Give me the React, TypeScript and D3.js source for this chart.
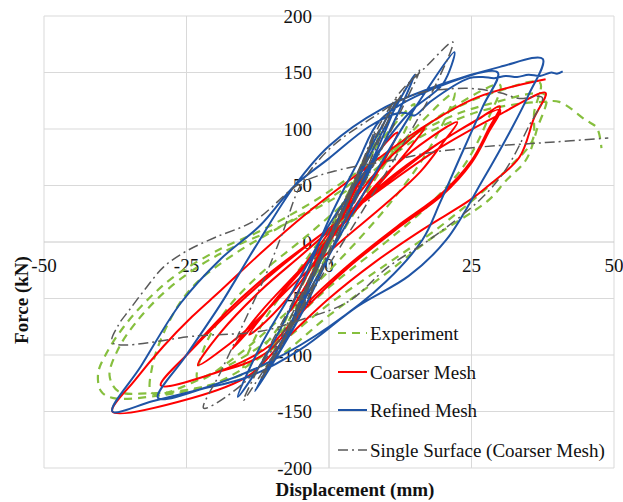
import React from 'react';
import * as d3 from 'd3';

type Pt = [number, number];

const xTicks = [-50, -25, 0, 25, 50];
const yTicks = [-200, -150, -100, -50, 0, 50, 100, 150, 200];
const seriesNames = ['Experiment', 'Coarser Mesh', 'Refined Mesh', 'Single Surface (Coarser Mesh)'];

// displacement (mm), force (kN)
const experiment: Pt[] = [
  [0, 0], [2, 22], [4, 48], [2, 18], [-2, -22], [-4, -45], [-2, -14],
  [3, 34], [6, 72], [3, 30], [-3, -32], [-6, -66], [-3, -28],
  [4, 44], [9, 98], [6, 58], [0, -4], [-6, -60], [-10, -95], [-6, -52],
  [0, 10], [7, 75], [15, 122], [13, 95], [8, 55], [0, -10], [-8, -70], [-15, -112],
  [-12, -75], [-6, -30], [0, 12], [8, 60], [15, 100], [22, 132],
  [20, 105], [16, 70], [10, 30], [2, -15], [-8, -65], [-16, -100], [-23, -122],
  [-22, -95], [-18, -60], [-12, -28], [-4, 5], [5, 45], [14, 90], [22, 120], [30, 139],
  [28, 110], [24, 70], [18, 35], [10, 0], [0, -40], [-10, -85], [-20, -115], [-31, -134],
  [-31, -110], [-28, -70], [-24, -40], [-17, -12], [-8, 15], [2, 45], [12, 85], [22, 118], [30, 134], [37, 141],
  [36, 115], [35.7, 90], [32, 68], [28, 49], [18.8, 11], [10, -20], [0, -55], [-10, -95], [-20, -125], [-30, -136], [-38, -138], [-40, -132],
  [-40.5, -116], [-39, -98], [-36, -75], [-32, -52], [-27, -30], [-19, -6], [-12, 10], [-3, 35], [8, 72], [20, 108], [28, 122], [38, 130],
  [36.5, 100], [34.6, 73], [31, 54], [28, 37], [17.6, 2], [10, -28], [0, -65], [-10, -105], [-22, -128], [-32, -134], [-37, -132], [-38.5, -118],
  [-37, -95], [-34, -72], [-29, -45], [-23, -22], [-17, -5], [-8, 15], [3, 45], [15, 90], [26, 115], [33, 122], [37.5, 124],
  [40.4, 124], [45, 108], [47, 101], [47.8, 83],
];

const coarserMesh: Pt[] = [
  [0, 0], [4, 40], [7, 68], [5, 45], [0, 2], [-4, -38], [-7, -62], [-5, -40], [0, 5],
  [6, 60], [10, 88], [12, 97], [10, 75], [6, 42], [0, 0], [-6, -42], [-11, -70], [-14, -82],
  [-10, -55], [-4, -18], [3, 28], [9, 66], [14, 90], [16.8, 101],
  [14.6, 86], [10, 58], [4, 24], [-3, -15], [-10, -55], [-17, -95],
  [-12, -62], [-5, -24], [3, 20], [10, 60], [16, 86], [22.5, 106],
  [20, 88], [16, 62], [10, 34], [2, 0], [-6, -36], [-15, -80], [-23, -109],
  [-19, -80], [-12, -43], [-4, -8], [4, 28], [12, 62], [20, 90], [26, 108], [30, 120],
  [28, 100], [25, 72], [20, 44], [12, 14], [4, -18], [-4, -55], [-10, -90], [-18, -112], [-29.5, -127],
  [-25, -100], [-18, -62], [-10, -26], [0, 12], [10, 52], [20, 90], [30, 117],
  [28, 97], [25, 70], [20, 42], [12, 12], [4, -20], [-4, -58], [-11, -98], [-20, -116], [-29.5, -127],
  [-24, -95], [-16, -55], [-8, -20], [0, 12], [10, 50], [20, 85], [30, 113], [38, 132],
  [36, 110], [33.4, 75], [28, 50], [24.7, 37], [16.4, 11], [8, -18], [0, -50], [-8, -88], [-14, -118], [-24, -138], [-38, -150],
  [-34, -122], [-29, -92], [-24, -66], [-19, -43], [-12, -10], [-4, 25], [5, 60], [16, 100], [26, 128], [38, 144],
];

const refinedMesh: Pt[] = [
  [0, 0], [3, 35], [5, 55], [2, 22], [-3, -32], [-5, -55], [-2, -18],
  [4, 45], [8, 95], [5, 58], [0, 2], [-5, -52], [-8, -90], [-4, -45],
  [2, 22], [8, 90], [12, 125], [9, 88], [3, 22], [-4, -55], [-11, -115], [-7, -75],
  [0, 2], [7, 75], [15, 148], [11, 102], [4, 32], [-5, -65], [-13, -132],
  [-8, -85], [0, -12], [8, 60], [15, 118], [22, 168],
  [20, 140], [14.6, 117], [11, 96], [6, 60], [0, 15], [-6, -40], [-12, -92], [-16, -137],
  [-11, -100], [-5, -40], [0, 20], [5, 70], [9, 108], [18, 135], [29.6, 150],
  [27, 120], [23, 75], [19.5, 35], [16.4, 2], [10, -35], [0, -75], [-10, -105], [-20, -126], [-30, -138],
  [-25, -100], [-19, -55], [-13, -5], [-6, 50], [0, 85], [9, 117], [20, 140], [30, 155], [37.5, 162],
  [35, 130], [32, 100], [27, 55], [20.6, 2], [14, -30], [5, -57], [-5, -95], [-14, -119], [-23, -131], [-31, -141], [-38, -150],
  [-33, -110], [-26, -54], [-19, -15], [-12, 15], [-6, 50], [0, 74], [7, 102], [12, 114], [13.6, 114], [15, 112], [18, 125], [24.6, 145],
  [27, 146], [29, 145], [31, 147], [33, 146], [35, 148], [37, 147], [39, 150], [40, 149], [41, 151],
];

const singleSurface: Pt[] = [
  [0, 0], [3, 32], [5, 58], [2, 20], [-3, -30], [-5, -52], [-2, -18],
  [4, 48], [8, 98], [5, 55], [-1, -10], [-6, -62], [-9, -98], [-5, -55],
  [2, 22], [9, 105], [12, 128], [9, 92], [3, 25], [-5, -60], [-12, -122], [-8, -80],
  [0, 5], [8, 92], [15.9, 152], [13, 120], [8, 70], [2, 10], [-5, -62], [-10, -102], [-15, -140],
  [-11, -98], [-5, -40], [2, 30], [8, 85], [11.8, 128], [17, 155], [21.7, 177],
  [19, 142], [14, 95], [8, 45], [0, -20], [-8, -82], [-15, -125], [-22, -147],
  [-19, -115], [-15, -72], [-11, -28], [-8, 10], [-5, 50], [0, 82], [7, 108], [14.7, 130], [24, 136], [30, 132], [33.4, 127], [37.4, 128],
  [35, 102], [31, 64], [26.4, 37], [17.6, 2], [10.4, -22], [3.3, -53], [-5, -69], [-12, -79], [-23, -83], [-38, -89],
  [-37, -74], [-35, -60], [-32, -40], [-29, -22], [-25, -8], [-20, 4], [-13, 19], [-5, 52], [2, 64], [11.8, 73], [17.6, 79], [26.4, 84], [38, 88], [49, 92],
];

const allSeries = [experiment, coarserMesh, refinedMesh, singleSurface];
const seriesStyle = [
  { color: '#86bf3e', width: 2.2, dash: '8,6' },
  { color: '#ff0000', width: 2, dash: undefined },
  { color: '#1f54a5', width: 2, dash: undefined },
  { color: '#595959', width: 1.5, dash: '10,4,2,4' },
];

const W = 623;
const H = 502;
const font = '"Liberation Serif", "Times New Roman", serif';

export default function App() {
  const x = d3.scaleLinear().domain([-50, 50]).range([44, 614]);
  const y = d3.scaleLinear().domain([-200, 200]).range([468, 16]);
  const line = d3
    .line<Pt>()
    .x(d => x(d[0]))
    .y(d => y(d[1]))
    .curve(d3.curveCatmullRom.alpha(0.5));

  const legendY = [333, 372, 410, 450];

  return (
    <svg width={W} height={H} style={{ position: 'absolute', left: 0, top: 0, background: '#fff' }}
      fontFamily={font}>
      {/* grid */}
      {xTicks.map(t => (
        <line key={'gx' + t} x1={x(t)} x2={x(t)} y1={y(-200)} y2={y(200)}
          stroke={t === 0 ? '#c8c8c8' : '#d9d9d9'} strokeWidth={1} />
      ))}
      {yTicks.map(t => (
        <line key={'gy' + t} x1={x(-50)} x2={x(50)} y1={y(t)} y2={y(t)}
          stroke={t === 0 ? '#c8c8c8' : '#d9d9d9'} strokeWidth={1} />
      ))}

      {/* tick labels */}
      {yTicks.map(t => (
        <text key={'ly' + t} x={312} y={y(t)} dy="0.35em" textAnchor="end" fontSize={19} fill="#111">
          {t}
        </text>
      ))}
      {xTicks.map(t => (
        <text key={'lx' + t} x={x(t)} y={y(0) + 23} dy="0.35em" textAnchor="middle" fontSize={19} fill="#111">
          {t}
        </text>
      ))}

      {/* series */}
      {allSeries.map((s, i) => (
        <path key={seriesNames[i]} d={line(s) || ''} fill="none" stroke={seriesStyle[i].color}
          strokeWidth={seriesStyle[i].width} strokeDasharray={seriesStyle[i].dash}
          strokeLinejoin="round" />
      ))}

      {/* legend */}
      {seriesNames.map((n, i) => (
        <g key={'lg' + n}>
          <line x1={338} x2={367} y1={legendY[i]} y2={legendY[i]} stroke={seriesStyle[i].color}
            strokeWidth={seriesStyle[i].width} strokeDasharray={seriesStyle[i].dash} />
          <text x={370} y={legendY[i]} dy="0.35em" fontSize={19} fill="#111">{n}</text>
        </g>
      ))}

      {/* axis titles */}
      <text x={355} y={496} textAnchor="middle" fontSize={19} fontWeight="bold" fill="#111">
        Displacement (mm)
      </text>
      <text transform="translate(28,300) rotate(-90)" textAnchor="middle" fontSize={19} fontWeight="bold" fill="#111">
        Force (kN)
      </text>
    </svg>
  );
}
